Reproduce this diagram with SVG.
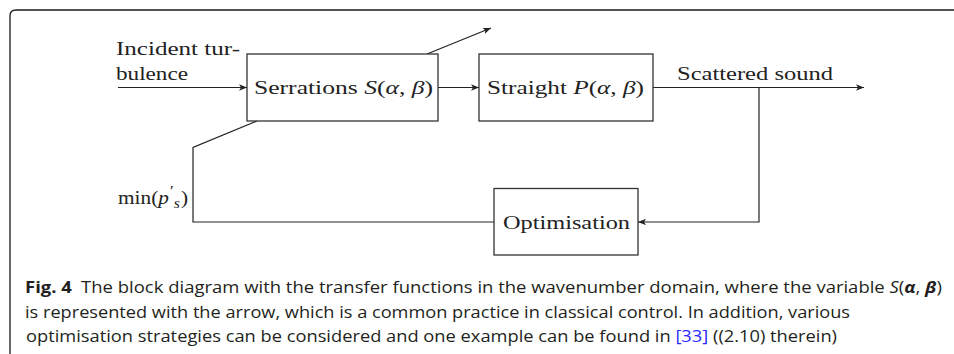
<svg xmlns="http://www.w3.org/2000/svg" width="954" height="354" viewBox="0 0 954 354">
<style>
.frame{fill:none;stroke:#1a1a1a;stroke-width:1.3}
.box{fill:#fff;stroke:#333;stroke-width:1.3}
.ln{fill:none;stroke:#222;stroke-width:1.2}
.t{font-family:"Liberation Serif","DejaVu Serif",serif;font-size:19px;fill:#222}
.it{font-style:italic}
.cap{font-family:"Open Sans","Noto Sans","Liberation Sans",sans-serif;font-size:16.5px;fill:#231f20}
.b{font-weight:bold}
.lk{fill:#2a2aff}
</style>
<defs>
<marker id="ah" viewBox="0 0 10 8" refX="10" refY="4" markerWidth="8" markerHeight="6.4" markerUnits="userSpaceOnUse" orient="auto">
<path d="M0,0 L10,4 L0,8 L2.5,4 Z" fill="#222"/>
</marker>
</defs>
<path class="frame" d="M10,354 V16 Q10,10 16,10 H954"/>
<g id="connectors">
<line class="ln" x1="118" y1="87.5" x2="247" y2="87.5" marker-end="url(#ah)"/>
<line class="ln" x1="438" y1="87.5" x2="479" y2="87.5" marker-end="url(#ah)"/>
<line class="ln" x1="653" y1="87.5" x2="864" y2="87.5" marker-end="url(#ah)"/>
<line class="ln" x1="427" y1="54" x2="491" y2="28" marker-end="url(#ah)"/>
<polyline class="ln" points="257,121 193,147.5 193,222 494,222"/>
<polyline class="ln" points="759,87.5 759,222 638,222" marker-end="url(#ah)"/>
</g>
<g id="input-label">
<text class="t" x="116" y="55" textLength="124" lengthAdjust="spacingAndGlyphs">Incident tur-</text>
<text class="t" x="116" y="80" textLength="72" lengthAdjust="spacingAndGlyphs">bulence</text>
</g>
<g id="serrations">
<rect class="box" x="247" y="54" width="191" height="67"/>
<text class="t" x="254" y="93.5" textLength="179" lengthAdjust="spacingAndGlyphs">Serrations <tspan class="it">S</tspan>(<tspan class="it">α</tspan>, <tspan class="it">β</tspan>)</text>
</g>
<g id="straight">
<rect class="box" x="479" y="54" width="174" height="67"/>
<text class="t" x="487" y="93.5" textLength="157" lengthAdjust="spacingAndGlyphs">Straight <tspan class="it">P</tspan>(<tspan class="it">α</tspan>, <tspan class="it">β</tspan>)</text>
</g>
<g id="output-label">
<text class="t" x="677" y="79.5" textLength="156" lengthAdjust="spacingAndGlyphs">Scattered sound</text>
</g>
<g id="optimisation">
<rect class="box" x="494" y="188.5" width="144" height="66.5"/>
<text class="t" x="503" y="228.5" textLength="127" lengthAdjust="spacingAndGlyphs">Optimisation</text>
</g>
<g id="feedback-label">
<text class="t" x="118" y="204" font-size="20" textLength="70" lengthAdjust="spacingAndGlyphs">min(<tspan class="it">p</tspan><tspan font-size="15" dx="1" dy="-8">′</tspan><tspan class="it" font-size="14" dx="0" dy="12">s</tspan><tspan dx="1" dy="-4">)</tspan></text>
</g>
<g id="caption">
<text class="cap" x="25" y="293" textLength="917" lengthAdjust="spacingAndGlyphs"><tspan class="b">Fig. 4</tspan><tspan dx="4"> The block diagram with the transfer functions in the wavenumber domain, where the variable </tspan><tspan class="it">S</tspan>(<tspan class="it b">α</tspan>, <tspan class="it b">β</tspan>)</text>
<text class="cap" x="25" y="318" textLength="825" lengthAdjust="spacingAndGlyphs">is represented with the arrow, which is a common practice in classical control. In addition, various</text>
<text class="cap" x="26" y="342" textLength="811" lengthAdjust="spacingAndGlyphs">optimisation strategies can be considered and one example can be found in <tspan class="lk">[33]</tspan> ((2.10) therein)</text>
</g>
</svg>
